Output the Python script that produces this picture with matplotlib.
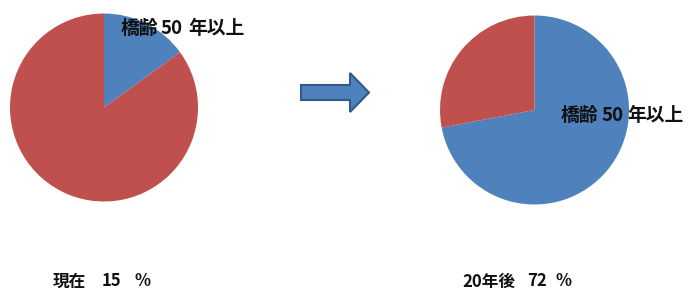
import matplotlib
matplotlib.use("Agg")
import matplotlib.pyplot as plt
from matplotlib.patches import FancyArrow

plt.rcParams['font.family'] = ['Noto Sans CJK JP', 'DejaVu Sans']

categories = ["橋齢 50 年以上", "その他"]
now_values = [15, 85]
future_values = [72, 28]
captions = ["現在  15  %", "20年後  72  %"]
colors = ["#4F81BD", "#C0504D"]

W, H = 688, 291
fig = plt.figure(figsize=(W / 100, H / 100), dpi=100)
fig.patch.set_facecolor("white")

def add_pie(cx, cy, r, values):
    ax = fig.add_axes([(cx - r) / W, (H - cy - r) / H, 2 * r / W, 2 * r / H])
    ax.pie(values, colors=colors, startangle=90, counterclock=False, radius=1,
           wedgeprops=dict(linewidth=0))
    ax.set_xlim(-1, 1)
    ax.set_ylim(-1, 1)
    ax.set_aspect("equal")
    ax.axis("off")
    return ax

add_pie(104, 107.5, 94, now_values)
add_pie(534.5, 110, 94.5, future_values)

# overlay in pixel coordinates for labels and arrow
ov = fig.add_axes([0, 0, 1, 1])
ov.set_xlim(0, W)
ov.set_ylim(H, 0)
ov.axis("off")

def spaced_text(x_centers, y, text, size):
    parts = text.split()
    for x, part in zip(x_centers, parts):
        ov.text(x, y, part, fontsize=size, fontweight="bold", va="center",
                ha="center", color="#111111")

spaced_text([139.5, 171.5, 216], 28.5, categories[0], 13.5)
spaced_text([579.5, 612.5, 655], 115.5, categories[0], 13.5)

spaced_text([69.5, 111.5, 142.5], 281.5, captions[0], 12)
spaced_text([489, 537.5, 563.5], 281.5, captions[1], 12)

arrow = FancyArrow(301, 92.5, 68, 0, width=15, head_width=39, head_length=19,
                   length_includes_head=True, facecolor="#4F81BD", edgecolor="#2E5A8E", linewidth=1.5)
ov.add_patch(arrow)

fig.savefig("out.png", dpi=100, facecolor="white")
